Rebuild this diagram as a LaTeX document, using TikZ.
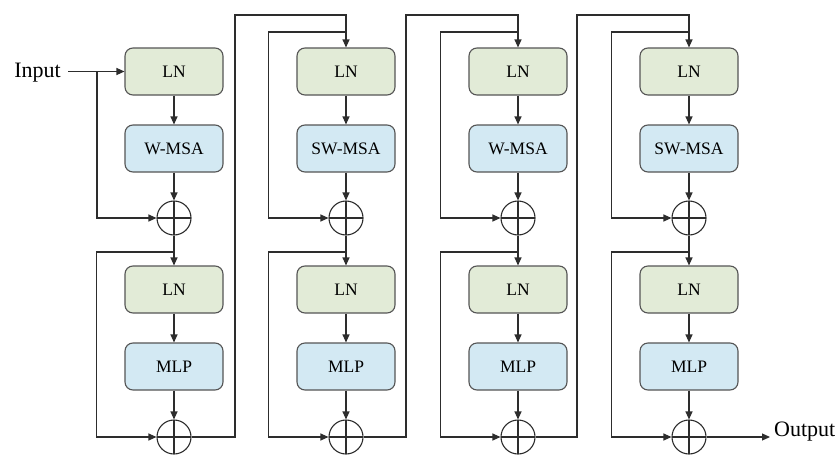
\documentclass[tikz,border=0pt]{standalone}
\usepackage{fontspec}
\setmainfont{Liberation Serif}
\usetikzlibrary{arrows.meta,calc}

\definecolor{linecol}{RGB}{45,45,45}
\definecolor{boxline}{RGB}{85,85,85}
\definecolor{lngreen}{RGB}{226,235,215}
\definecolor{attblue}{RGB}{211,233,243}

\tikzset{
  blockbase/.style={draw=boxline, line width=1.1pt, rounded corners=8pt,
    minimum width=98pt, minimum height=47pt, inner sep=0pt,
    font=\fontsize{17.5}{20}\selectfont},
  lnbox/.style={blockbase, fill=lngreen},
  attbox/.style={blockbase, fill=attblue},
  addop/.style={circle, draw=linecol, line width=1.1pt, minimum size=34pt,
    inner sep=0pt,
    path picture={\draw[linecol, line width=1.1pt]
      (path picture bounding box.north) -- (path picture bounding box.south)
      (path picture bounding box.west) -- (path picture bounding box.east);}},
  flow/.style={draw=linecol, line width=1.1pt,
    -{Triangle[length=8pt,width=7pt]}},
  wire/.style={draw=linecol, line width=1.1pt},
  iolabel/.style={inner ysep=0pt, font=\fontsize{22}{24}\selectfont}
}

\begin{document}
\begin{tikzpicture}[x=1pt, y=-1pt]
  \fill[white] (0,0) rectangle (840,455);
  \useasboundingbox (0,0) rectangle (840,455);

  % four transformer blocks, each with two residual stages
  \foreach \i/\cx/\att in {1/174/W-MSA, 2/346/SW-MSA, 3/518/W-MSA, 4/689/SW-MSA}{
    \node[lnbox]  (lna\i)  at (\cx,71.5)  {LN};
    \node[attbox] (att\i)  at (\cx,148.5) {\att};
    \node[addop]  (adda\i) at (\cx,218)   {};
    \node[lnbox]  (lnb\i)  at (\cx,289.5) {LN};
    \node[attbox] (mlp\i)  at (\cx,366.5) {MLP};
    \node[addop]  (addb\i) at (\cx,437)   {};

    \draw[flow] (lna\i) -- (att\i);
    \draw[flow] (att\i) -- (adda\i);
    \draw[flow] (adda\i) -- (lnb\i);
    \draw[flow] (lnb\i) -- (mlp\i);
    \draw[flow] (mlp\i) -- (addb\i);

    % residual path around LN + MLP
    \coordinate (brb\i) at (\cx,252);
    \coordinate (skb\i) at (\cx-77.5,252);
    \draw[flow] (brb\i) -- (skb\i) |- (addb\i.west);
  }

  % residual paths around LN + attention for blocks 2-4
  \foreach \i/\cx in {2/346, 3/518, 4/689}{
    \coordinate (bra\i) at (\cx,32);
    \coordinate (ska\i) at (\cx-77.5,32);
    \draw[flow] (bra\i) -- (ska\i) |- (adda\i.west);
  }

  % links from one block's output to the next block's input
  \foreach \i/\j/\ox in {1/2/235, 2/3/406, 3/4/577}{
    \coordinate (outb\i) at (\ox,437);
    \coordinate (outt\i) at (\ox,15);
    \draw[flow] (addb\i.east) -- (outb\i) -- (outt\i) -| (lna\j.north);
  }

  % input and output
  \node[iolabel, inner xsep=7pt, anchor=base east] (in) at (68,77) {Input};
  \coordinate (bra1) at (97,71.5);
  \draw[flow] (in.east |- lna1.west) -- (lna1.west);
  \draw[flow] (bra1) |- (adda1.west);

  \node[iolabel, inner xsep=4pt, anchor=base west] (out) at (770,436) {Output};
  \draw[flow] (addb4.east) -- (out.west |- addb4.east);
\end{tikzpicture}
\end{document}
